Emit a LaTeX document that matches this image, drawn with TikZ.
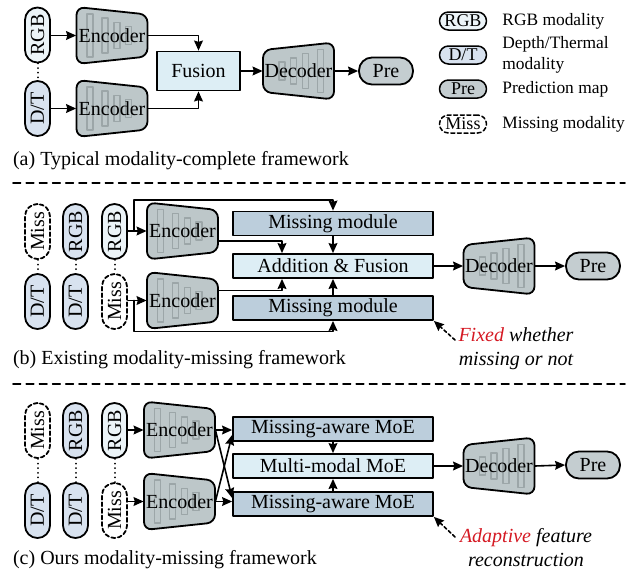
\documentclass[tikz,border=0pt]{standalone}
\usepackage{fontspec}
\setmainfont{Liberation Serif}
\usetikzlibrary{arrows.meta,calc}
\definecolor{encgray}{RGB}{189,199,201}
\definecolor{bargray}{RGB}{156,166,168}
\definecolor{pregray}{RGB}{196,205,208}
\definecolor{rgbblue}{RGB}{236,244,248}
\definecolor{dtblue}{RGB}{216,226,239}
\definecolor{fusblue}{RGB}{221,238,245}
\definecolor{modblue}{RGB}{188,206,220}
\definecolor{notered}{RGB}{213,25,35}

\tikzset{
  arr/.style={-{Stealth[length=5pt,width=4.4pt,inset=0.6pt]},line width=0.8pt},
  pill/.style={draw,line width=0.9pt,rounded corners=6.2pt,minimum width=12.5pt,minimum height=27.5pt,inner sep=0pt},
  rgbpill/.style={pill,fill=rgbblue},
  dtpill/.style={pill,fill=dtblue},
  misspill/.style={pill,fill=white,dash pattern=on 2pt off 1.3pt},
  prepill/.style={draw,line width=0.9pt,fill=pregray,rounded corners=6.5pt,minimum width=27pt,minimum height=13.5pt,inner sep=0pt},
  keypill/.style={draw,line width=0.75pt,rounded corners=4.5pt,minimum width=23.5pt,minimum height=9pt,inner sep=0pt,font=\fontsize{9}{10}\selectfont},
  keytext/.style={anchor=west,align=left,inner sep=1pt,font=\fontsize{8.7}{10.5}\selectfont},
  fusbox/.style={draw,line width=0.9pt,fill=fusblue,minimum width=41.5pt,minimum height=19.5pt,inner sep=0pt},
  modbox/.style={draw,line width=0.9pt,minimum width=100pt,minimum height=12pt,inner sep=0pt},
  caption/.style={anchor=west},
  note/.style={align=center,font=\fontsize{10}{12}\selectfont\itshape},
  notearr/.style={arr,dash pattern=on 1.6pt off 1.3pt},
  sep/.style={line width=0.8pt,dash pattern=on 3.8pt off 2.8pt},
  dots/.style={line width=1pt,dash pattern=on 0.01pt off 2.3pt},
  pics/trap/.style 2 args={code={
    \begin{scope}[xscale=#1]
      \draw[line width=0.9pt,fill=encgray,rounded corners=4pt] (-35.5,-28.5) -- (35.5,-21) -- (35.5,21) -- (-35.5,28.5) -- cycle;
      \foreach \bx/\bh in {-22/43,-7/35,5/26,16.5/18}
        \draw[bargray,line width=0.55pt] (\bx-3,-\bh/2) rectangle (\bx+3,\bh/2);
    \end{scope}
    \node[inner sep=0pt,minimum width=35.5pt,minimum height=21pt] (-t) {#2};
  }}
}

\begin{document}
\begin{tikzpicture}[x=0.5pt,y=-0.5pt,line cap=round,line join=round,font=\fontsize{10}{12}\selectfont]
\useasboundingbox (0,0) rectangle (639,569);
% (a) modality-complete
\node[rgbpill] (a-rgb) at (37.5,35) {\rotatebox{90}{RGB}};
\node[dtpill] (a-dt) at (37.5,108.5) {\rotatebox{90}{D/T}};
\draw[dots] (a-rgb) -- (a-dt);
\pic (a-e1) at (112,35.5) {trap={1}{Encoder}};
\pic (a-e2) at (112,108.5) {trap={1}{Encoder}};
\node[fusbox] (a-fus) at (198.5,71) {Fusion};
\pic (a-dec) at (298.5,71) {trap={-1}{Decoder}};
\node[prepill] (a-pre) at (386,71) {Pre};
\draw[arr] (a-rgb.east |- a-e1-t) -- (a-e1-t.west);
\draw[arr] (a-dt.east |- a-e2-t) -- (a-e2-t.west);
\draw[arr] (a-e1-t.east) -| (a-fus.north);
\draw[arr] (a-e2-t.east) -| (a-fus.south);
\draw[arr] (a-fus.east) -- (a-dec-t.west);
\draw[arr] (a-dec-t.east) -- (a-pre.west);
% legend
\node[keypill,fill=rgbblue] (k-rgb) at (463,21) {RGB};
\node[keytext] (k-rgb-t) at (500,21) {RGB modality};
\node[keypill,fill=dtblue] (k-dt) at (463,55) {D/T};
\node[keytext] (k-dt-t) at (500,55) {Depth/Thermal\\modality};
\node[keypill,fill=pregray] (k-pre) at (463,89) {Pre};
\node[keytext] (k-pre-t) at (500,89) {Prediction map};
\node[keypill,fill=white,dash pattern=on 2pt off 1.3pt] (k-miss) at (463,124) {Miss};
\node[keytext] (k-miss-t) at (500,124) {Missing modality};
\node[caption] (a-cap) at (6,161) {(a) Typical modality-complete framework};
\draw[sep] (13,183) -- (625,183);
% (b) existing modality-missing
\node[misspill] (b-m1) at (37.5,231.5) {\rotatebox{90}{Miss}};
\node[dtpill] (b-d1) at (37.5,301.5) {\rotatebox{90}{D/T}};
\node[dtpill] (b-r2) at (75.5,231.5) {\rotatebox{90}{RGB}};
\node[dtpill] (b-d2) at (75.5,301.5) {\rotatebox{90}{D/T}};
\node[rgbpill] (b-r3) at (114.5,231.5) {\rotatebox{90}{RGB}};
\node[misspill] (b-m3) at (114.5,301.5) {\rotatebox{90}{Miss}};
\draw[dots] (b-m1) -- (b-d1);
\draw[dots] (b-r2) -- (b-d2);
\draw[dots] (b-r3) -- (b-m3);
\pic (b-e1) at (182.5,231) {trap={1}{Encoder}};
\pic (b-e2) at (182.5,300.5) {trap={1}{Encoder}};
\node[modbox,fill=modblue] (b-mm1) at (333,223.5) {Missing module};
\node[modbox,fill=fusblue] (b-af) at (333,266) {Addition \& Fusion};
\node[modbox,fill=modblue] (b-mm2) at (333,308) {Missing module};
\pic (b-dec) at (499,266) {trap={-1}{Decoder}};
\node[prepill] (b-pre) at (593,266) {Pre};
\coordinate (b-j1) at ($(b-r3.east |- b-e1-t)+(6,0)$);
\coordinate (b-j2) at ($(b-m3.east |- b-e2-t)+(6,0)$);
\draw[arr] (b-r3.east |- b-e1-t) -- (b-e1-t.west);
\draw[arr] (b-m3.east |- b-e2-t) -- (b-e2-t.west);
\draw[arr] (b-j1) -- ++(0,-31) -| (b-mm1.north);
\draw[arr] (b-j2) -- ++(0,31) -| (b-mm2.south);
\draw[arr] ($(b-e1-t.east)+(0,10)$) -| ($(b-af.north)+(-51,0)$);
\draw[arr] ($(b-e2-t.east)+(0,-10)$) -| ($(b-af.south)+(-51,0)$);
\draw[arr] (b-mm1) -- (b-af);
\draw[arr] (b-mm2) -- (b-af);
\draw[arr] (b-af.east) -- (b-dec-t.west);
\draw[arr] (b-dec-t.east) -- (b-pre.west);
\node[note] (b-note) at (516,348.5) {\textcolor{notered}{Fixed} whether\\missing or not};
\coordinate (b-tail) at (455,340);
\draw[notearr] (b-tail) -- (b-mm2.south east);
\node[caption] (b-cap) at (6,360) {(b) Existing modality-missing framework};
\draw[sep] (13,384) -- (625,384);
% (c) ours
\node[misspill] (c-m1) at (37.5,430.5) {\rotatebox{90}{Miss}};
\node[dtpill] (c-d1) at (37.5,510.5) {\rotatebox{90}{D/T}};
\node[dtpill] (c-r2) at (75.5,430.5) {\rotatebox{90}{RGB}};
\node[dtpill] (c-d2) at (75.5,510.5) {\rotatebox{90}{D/T}};
\node[rgbpill] (c-r3) at (114.5,430.5) {\rotatebox{90}{RGB}};
\node[misspill] (c-m3) at (114.5,510.5) {\rotatebox{90}{Miss}};
\draw[dots] (c-m1) -- (c-d1);
\draw[dots] (c-r2) -- (c-d2);
\draw[dots] (c-r3) -- (c-m3);
\pic (c-e1) at (179.5,430) {trap={1}{Encoder}};
\pic (c-e2) at (179.5,501.5) {trap={1}{Encoder}};
\node[modbox,fill=modblue] (c-moe1) at (333,429) {Missing-aware MoE};
\node[modbox,fill=fusblue] (c-mm) at (333,466) {Multi-modal MoE};
\node[modbox,fill=modblue] (c-moe2) at (333,504) {Missing-aware MoE};
\pic (c-dec) at (499,466) {trap={-1}{Decoder}};
\node[prepill] (c-pre) at (593,465) {Pre};
\draw[arr] (c-r3.east |- c-e1-t) -- (c-e1-t.west);
\draw[arr] (c-m3.east |- c-e2-t) -- (c-e2-t.west);
\draw[arr] (c-e1-t.east) -- (c-moe1.west |- c-e1-t);
\draw[arr] (c-e2-t.east) -- (c-moe2.west |- c-e2-t);
\draw[arr] (c-e1-t.east) -- ($(c-moe2.west)+(0,-6)$);
\draw[arr] (c-e2-t.east) -- ($(c-moe1.west)+(0,6)$);
\draw[arr] (c-moe1) -- (c-mm);
\draw[arr] (c-moe2) -- (c-mm);
\draw[arr] (c-mm.east) -- (c-dec-t.west);
\draw[arr] (c-dec-t.east) -- (c-pre.west);
\node[note] (c-note) at (526,547.5) {\textcolor{notered}{Adaptive} feature\\reconstruction};
\coordinate (c-tail) at (455,537);
\draw[notearr] (c-tail) -- (c-moe2.south east);
\node[caption] (c-cap) at (6,560) {(c) Ours modality-missing framework};
\end{tikzpicture}
\end{document}
